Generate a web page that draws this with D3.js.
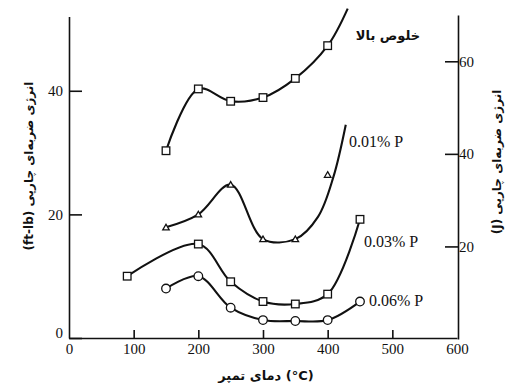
<!DOCTYPE html>
<html>
<head>
<meta charset="utf-8">
<script src="https://cdn.jsdelivr.net/npm/d3@7"></script>
<style>
	html, body { margin: 0; padding: 0; background: #fff; }
	svg { display: block; }
	.fa { font-family: 'DejaVu Sans', sans-serif; font-weight: bold; fill: #111; }
	.series-label { font-family: 'Liberation Serif', 'Times New Roman', serif; font-size: 16px; fill: #111; }
</style>
</head>
<body>
<svg id="chart" width="510" height="391"></svg>
<script>
// axis ticks
const tempTicks = [0, 100, 200, 300, 400, 500, 600];
const ftlbTicks = [0, 20, 40];
const jouleTicks = [20, 40, 60];

// high purity steel (squares)
const highTemps = [150, 200, 250, 300, 350, 400];
const highValues = [30.3, 40.3, 38.3, 38.9, 42.0, 47.3];
// the drawn curve keeps going past the last test point
const highTail = [[431, 53.3]];

// 0.01% P (triangles)
const p01Temps = [150, 200, 250, 300, 350, 400];
const p01Values = [17.9, 20.0, 24.8, 16.0, 16.0, 26.4];
// fitted curve does not run through the 400 point
const p01Curve = [[150, 17.9], [200, 20.0], [250, 24.8], [300, 16.0], [350, 16.0], [385, 19.6], [409, 26.1], [428, 34.5]];

// 0.03% P (squares)
const p03Temps = [90, 200, 250, 300, 350, 400, 450];
const p03Values = [10.0, 15.2, 9.1, 5.9, 5.5, 7.1, 19.2];

// 0.06% P (circles)
const p06Temps = [150, 200, 250, 300, 350, 400, 450];
const p06Values = [8.0, 10.0, 4.9, 2.9, 2.75, 2.9, 5.9];

const yTitle = 'انرژی ضربه\u200cای چارپی';
const serif = "'Liberation Serif', 'Times New Roman', serif";

const svg = d3.select('#chart');

const x = d3.scaleLinear().domain([0, 600]).range([69, 457]);
const yL = d3.scaleLinear().domain([0, 52]).range([338, 16.6]);
const yR = d3.scaleLinear().domain([0, 70]).range([339, 15]);

// axes
const gx = svg.append('g')
	.attr('transform', `translate(0,${yL(0)})`)
	.call(d3.axisBottom(x).tickValues(tempTicks).tickSizeInner(-8).tickSizeOuter(0).tickPadding(5));

const gyl = svg.append('g')
	.attr('transform', `translate(${x(0)},0)`)
	.call(d3.axisLeft(yL).tickValues(ftlbTicks).tickSizeInner(-13).tickSizeOuter(0).tickPadding(6));
gyl.selectAll('.tick').filter((d) => d === 0).select('text').attr('dy', '0').attr('y', -1);

const gyr = svg.append('g')
	.attr('transform', `translate(${x(600) + 1},0)`)
	.call(d3.axisRight(yR).tickValues(jouleTicks).tickSizeInner(-13).tickSizeOuter(0).tickPadding(1));

[gx, gyl, gyr].forEach((g) => g.attr('font-family', serif).attr('font-size', 15));
svg.selectAll('.tick text').attr('fill', '#111');
svg.selectAll('.domain, .tick line').attr('stroke', '#111').attr('stroke-width', 1.6);
gx.selectAll('.tick line').filter((d) => d === 0 || d === 600).remove();

// curves
const line = d3.line()
	.x((d) => x(d[0]))
	.y((d) => yL(d[1]))
	.curve(d3.curveCatmullRom.alpha(0.5));

const zipPts = (ts, vs) => ts.map((t, i) => [t, vs[i]]);

const curves = [
	zipPts(highTemps, highValues).concat(highTail),
	p01Curve,
	zipPts(p03Temps, p03Values),
	zipPts(p06Temps, p06Values),
];

svg.append('g')
	.selectAll('path')
	.data(curves)
	.join('path')
	.attr('d', line)
	.attr('fill', 'none')
	.attr('stroke', '#111')
	.attr('stroke-width', 2.1);

// markers
const markers = svg.append('g').attr('fill', '#fff').attr('stroke', '#111').attr('stroke-width', 1.3);

const squares = zipPts(highTemps, highValues).concat(zipPts(p03Temps, p03Values));
markers.selectAll('rect')
	.data(squares)
	.join('rect')
	.attr('x', (d) => x(d[0]) - 3.8)
	.attr('y', (d) => yL(d[1]) - 3.8)
	.attr('width', 7.6)
	.attr('height', 7.6);

markers.selectAll('path.tri')
	.data(zipPts(p01Temps, p01Values))
	.join('path')
	.attr('class', 'tri')
	.attr('d', d3.symbol(d3.symbolTriangle2, 30))
	.attr('transform', (d) => `translate(${x(d[0])},${yL(d[1]) + 0.6})`);

markers.selectAll('circle')
	.data(zipPts(p06Temps, p06Values))
	.join('circle')
	.attr('cx', (d) => x(d[0]))
	.attr('cy', (d) => yL(d[1]))
	.attr('r', 4.3);

// series labels
svg.append('text').attr('class', 'fa').attr('x', 388).attr('y', 40)
	.attr('text-anchor', 'middle').style('font-size', '13px').text('خلوص بالا');

const seriesLabels = [
	{ text: '0.01% P', at: [349, 147] },
	{ text: '0.03% P', at: [364, 247] },
	{ text: '0.06% P', at: [369, 306] },
];
svg.selectAll('text.series-label')
	.data(seriesLabels)
	.join('text')
	.attr('class', 'series-label')
	.attr('x', (d) => d.at[0])
	.attr('y', (d) => d.at[1])
	.text((d) => d.text);

// axis titles (rtl so the Persian words sit at the top once rotated)
svg.append('text').attr('class', 'fa')
	.attr('transform', 'translate(33,166) rotate(-90)')
	.attr('direction', 'rtl')
	.attr('text-anchor', 'middle').style('font-size', '12px')
	.text(yTitle + ' (ft-lb)');

svg.append('text').attr('class', 'fa')
	.attr('transform', 'translate(501,162) rotate(-90)')
	.attr('direction', 'rtl')
	.attr('text-anchor', 'middle').style('font-size', '12px')
	.text(yTitle + ' (J)');

svg.append('text').attr('class', 'fa')
	.attr('x', 266).attr('y', 380)
	.attr('text-anchor', 'middle').style('font-size', '13px')
	.text('دمای تمپر (°C)');
</script>
</body>
</html>
